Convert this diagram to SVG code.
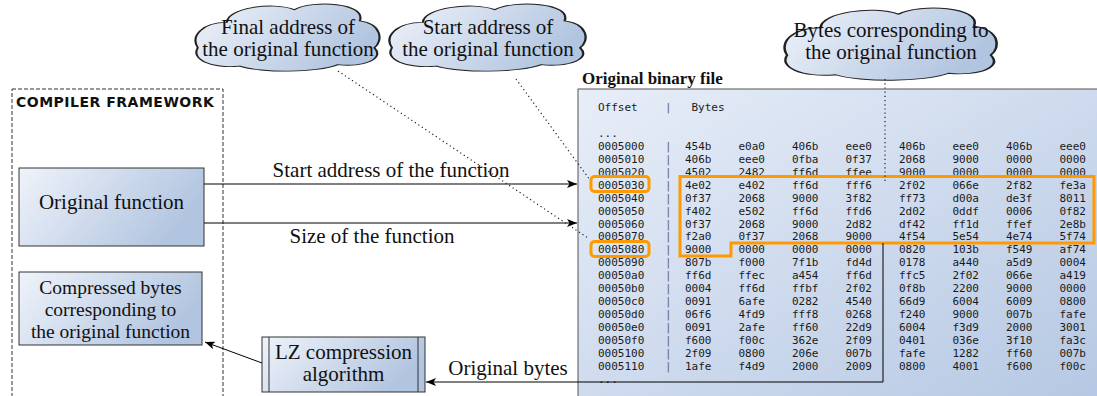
<svg xmlns="http://www.w3.org/2000/svg" width="1097" height="396" viewBox="0 0 1097 396">
<style>
  .serif { font-family: "Liberation Serif", "Times New Roman", serif; font-size: 21px; fill: #111; }
  .tight { font-size: 19.5px; }
  .mid { text-anchor: middle; }
  .title { font-family: "Liberation Serif", serif; font-size: 17px; font-weight: bold; fill: #111; }
  .frameTitle { font-family: "DejaVu Sans", sans-serif; font-size: 14px; font-weight: bold; letter-spacing: 0.5px; fill: #111; }
  .mono { font-family: "DejaVu Sans Mono", monospace; font-size: 11px; fill: #1a1a1a; }
  .sep { fill: #666; }
  .box { fill: url(#fillBlue); stroke: #333; stroke-width: 1; }
  .cloud { fill: url(#fillBlue); stroke: #222; stroke-width: 1.2; }
  .edge { fill: none; stroke: #000; stroke-width: 1; }
  .dotted { fill: none; stroke: #222; stroke-width: 1.2; stroke-dasharray: 1.2 3; }
  .mark { fill: none; stroke: #ff9900; stroke-width: 3; }
</style>
<defs>
  <linearGradient id="fillBlue" x1="0" y1="0" x2="1" y2="0.35">
    <stop offset="0" stop-color="#eff3fa"/>
    <stop offset="1" stop-color="#b2c5e0"/>
  </linearGradient>
  <linearGradient id="fillPanel" x1="0" y1="0" x2="1" y2="1">
    <stop offset="0" stop-color="#e8eef8"/>
    <stop offset="1" stop-color="#b3c6e2"/>
  </linearGradient>
  <marker id="arrow" viewBox="0 0 10 8" refX="10" refY="4" markerWidth="10" markerHeight="8" markerUnits="userSpaceOnUse" orient="auto">
    <path d="M0,0 L10,4 L0,8 L2.5,4 z" fill="#000"/>
  </marker>
  <!-- cloud outline in a 100x100 unit box -->
  <path id="cloudPath" d="M1,68 C-3,52 3,32 17,32 C17,12 42,2 54,14 C64,0 94,4 90,30 C102,34 103,58 98,68 C104,84 92,96 78,92 C66,104 36,104 24,94 C8,98 -3,84 1,68 Z"/>
</defs>

<!-- compiler framework container -->
<g id="compiler-framework">
  <rect x="12" y="89" width="211" height="330" fill="none" stroke="#333" stroke-width="1" stroke-dasharray="4 2"/>
  <text class="frameTitle" x="16" y="107">COMPILER FRAMEWORK</text>
</g>

<!-- binary file listing -->
<g id="binary-file">
  <text class="title" x="582" y="84">Original binary file</text>
  <rect x="578" y="89" width="530" height="330" fill="url(#fillPanel)" stroke="#555" stroke-width="1"/>
  <g class="mono">
    <text y="111"><tspan x="598">Offset</tspan><tspan x="665" class="sep">|</tspan><tspan x="691.5">Bytes</tspan></text>
    <text x="598" y="137">...</text>
    <text y="150"><tspan x="598">0005000</tspan><tspan x="665" class="sep">|</tspan><tspan x="685">454b</tspan><tspan x="738.5">e0a0</tspan><tspan x="792">406b</tspan><tspan x="845.5">eee0</tspan><tspan x="899">406b</tspan><tspan x="952.5">eee0</tspan><tspan x="1006">406b</tspan><tspan x="1059.5">eee0</tspan></text>
    <text y="162.9"><tspan x="598">0005010</tspan><tspan x="665" class="sep">|</tspan><tspan x="685">406b</tspan><tspan x="738.5">eee0</tspan><tspan x="792">0fba</tspan><tspan x="845.5">0f37</tspan><tspan x="899">2068</tspan><tspan x="952.5">9000</tspan><tspan x="1006">0000</tspan><tspan x="1059.5">0000</tspan></text>
    <text y="175.8"><tspan x="598">0005020</tspan><tspan x="665" class="sep">|</tspan><tspan x="685">4502</tspan><tspan x="738.5">2482</tspan><tspan x="792">ff6d</tspan><tspan x="845.5">ffee</tspan><tspan x="899">9000</tspan><tspan x="952.5">0000</tspan><tspan x="1006">0000</tspan><tspan x="1059.5">0000</tspan></text>
    <text y="188.8"><tspan x="598">0005030</tspan><tspan x="665" class="sep">|</tspan><tspan x="685">4e02</tspan><tspan x="738.5">e402</tspan><tspan x="792">ff6d</tspan><tspan x="845.5">fff6</tspan><tspan x="899">2f02</tspan><tspan x="952.5">066e</tspan><tspan x="1006">2f82</tspan><tspan x="1059.5">fe3a</tspan></text>
    <text y="201.7"><tspan x="598">0005040</tspan><tspan x="665" class="sep">|</tspan><tspan x="685">0f37</tspan><tspan x="738.5">2068</tspan><tspan x="792">9000</tspan><tspan x="845.5">3f82</tspan><tspan x="899">ff73</tspan><tspan x="952.5">d00a</tspan><tspan x="1006">de3f</tspan><tspan x="1059.5">8011</tspan></text>
    <text y="214.6"><tspan x="598">0005050</tspan><tspan x="665" class="sep">|</tspan><tspan x="685">f402</tspan><tspan x="738.5">e502</tspan><tspan x="792">ff6d</tspan><tspan x="845.5">ffd6</tspan><tspan x="899">2d02</tspan><tspan x="952.5">0ddf</tspan><tspan x="1006">0006</tspan><tspan x="1059.5">0f82</tspan></text>
    <text y="227.5"><tspan x="598">0005060</tspan><tspan x="665" class="sep">|</tspan><tspan x="685">0f37</tspan><tspan x="738.5">2068</tspan><tspan x="792">9000</tspan><tspan x="845.5">2d82</tspan><tspan x="899">df42</tspan><tspan x="952.5">ff1d</tspan><tspan x="1006">ffef</tspan><tspan x="1059.5">2e8b</tspan></text>
    <text y="240.4"><tspan x="598">0005070</tspan><tspan x="665" class="sep">|</tspan><tspan x="685">f2a0</tspan><tspan x="738.5">0f37</tspan><tspan x="792">2068</tspan><tspan x="845.5">9000</tspan><tspan x="899">4f54</tspan><tspan x="952.5">5e54</tspan><tspan x="1006">4e74</tspan><tspan x="1059.5">5f74</tspan></text>
    <text y="253.4"><tspan x="598">0005080</tspan><tspan x="665" class="sep">|</tspan><tspan x="685">9000</tspan><tspan x="738.5">0000</tspan><tspan x="792">0000</tspan><tspan x="845.5">0000</tspan><tspan x="899">0820</tspan><tspan x="952.5">103b</tspan><tspan x="1006">f549</tspan><tspan x="1059.5">af74</tspan></text>
    <text y="266.3"><tspan x="598">0005090</tspan><tspan x="665" class="sep">|</tspan><tspan x="685">807b</tspan><tspan x="738.5">f000</tspan><tspan x="792">7f1b</tspan><tspan x="845.5">fd4d</tspan><tspan x="899">0178</tspan><tspan x="952.5">a440</tspan><tspan x="1006">a5d9</tspan><tspan x="1059.5">0004</tspan></text>
    <text y="279.2"><tspan x="598">00050a0</tspan><tspan x="665" class="sep">|</tspan><tspan x="685">ff6d</tspan><tspan x="738.5">ffec</tspan><tspan x="792">a454</tspan><tspan x="845.5">ff6d</tspan><tspan x="899">ffc5</tspan><tspan x="952.5">2f02</tspan><tspan x="1006">066e</tspan><tspan x="1059.5">a419</tspan></text>
    <text y="292.1"><tspan x="598">00050b0</tspan><tspan x="665" class="sep">|</tspan><tspan x="685">0004</tspan><tspan x="738.5">ff6d</tspan><tspan x="792">ffbf</tspan><tspan x="845.5">2f02</tspan><tspan x="899">0f8b</tspan><tspan x="952.5">2200</tspan><tspan x="1006">9000</tspan><tspan x="1059.5">0000</tspan></text>
    <text y="305"><tspan x="598">00050c0</tspan><tspan x="665" class="sep">|</tspan><tspan x="685">0091</tspan><tspan x="738.5">6afe</tspan><tspan x="792">0282</tspan><tspan x="845.5">4540</tspan><tspan x="899">66d9</tspan><tspan x="952.5">6004</tspan><tspan x="1006">6009</tspan><tspan x="1059.5">0800</tspan></text>
    <text y="318"><tspan x="598">00050d0</tspan><tspan x="665" class="sep">|</tspan><tspan x="685">06f6</tspan><tspan x="738.5">4fd9</tspan><tspan x="792">fff8</tspan><tspan x="845.5">0268</tspan><tspan x="899">f240</tspan><tspan x="952.5">9000</tspan><tspan x="1006">007b</tspan><tspan x="1059.5">fafe</tspan></text>
    <text y="330.9"><tspan x="598">00050e0</tspan><tspan x="665" class="sep">|</tspan><tspan x="685">0091</tspan><tspan x="738.5">2afe</tspan><tspan x="792">ff60</tspan><tspan x="845.5">22d9</tspan><tspan x="899">6004</tspan><tspan x="952.5">f3d9</tspan><tspan x="1006">2000</tspan><tspan x="1059.5">3001</tspan></text>
    <text y="343.8"><tspan x="598">00050f0</tspan><tspan x="665" class="sep">|</tspan><tspan x="685">f600</tspan><tspan x="738.5">f00c</tspan><tspan x="792">362e</tspan><tspan x="845.5">2f09</tspan><tspan x="899">0401</tspan><tspan x="952.5">036e</tspan><tspan x="1006">3f10</tspan><tspan x="1059.5">fa3c</tspan></text>
    <text y="356.7"><tspan x="598">0005100</tspan><tspan x="665" class="sep">|</tspan><tspan x="685">2f09</tspan><tspan x="738.5">0800</tspan><tspan x="792">206e</tspan><tspan x="845.5">007b</tspan><tspan x="899">fafe</tspan><tspan x="952.5">1282</tspan><tspan x="1006">ff60</tspan><tspan x="1059.5">007b</tspan></text>
    <text y="369.6"><tspan x="598">0005110</tspan><tspan x="665" class="sep">|</tspan><tspan x="685">1afe</tspan><tspan x="738.5">f4d9</tspan><tspan x="792">2000</tspan><tspan x="845.5">2009</tspan><tspan x="899">0800</tspan><tspan x="952.5">4001</tspan><tspan x="1006">f600</tspan><tspan x="1059.5">f00c</tspan></text>
    <text x="598" y="382.5">...</text>
  </g>
  <!-- highlighted offsets and byte range -->
  <rect class="mark" x="591" y="176.5" width="58" height="15" rx="3.5"/>
  <rect class="mark" x="591" y="241.5" width="58" height="15" rx="3.5"/>
  <path class="mark" d="M680,176.5 H1094 V243 H731 V256 H680 Z"/>
</g>

<!-- process boxes -->
<g id="original-function">
  <rect class="box" x="19" y="168" width="185" height="78"/>
  <text class="serif mid" x="111.5" y="209">Original function</text>
</g>
<g id="compressed-bytes">
  <rect class="box" x="19" y="272" width="183" height="73"/>
  <text class="serif tight mid" x="110.5" y="294">Compressed bytes</text>
  <text class="serif tight mid" x="110.5" y="316">corresponding to</text>
  <text class="serif tight mid" x="110.5" y="338">the original function</text>
</g>
<g id="lz-compression">
  <rect class="box" x="262" y="337" width="163" height="55"/>
  <line x1="269" y1="337" x2="269" y2="392" stroke="#333" stroke-width="1"/>
  <line x1="418" y1="337" x2="418" y2="392" stroke="#333" stroke-width="1"/>
  <text class="serif mid" x="343.5" y="359">LZ compression</text>
  <text class="serif mid" x="343.5" y="381">algorithm</text>
</g>

<!-- annotation clouds -->
<g id="cloud-final-address">
  <use href="#cloudPath" class="cloud" transform="translate(196,-0.2) scale(1.82,0.705)" vector-effect="non-scaling-stroke"/>
  <text class="serif mid" x="288" y="34">Final address of</text>
  <text class="serif mid" x="288" y="56">the original function</text>
</g>
<g id="cloud-start-address">
  <use href="#cloudPath" class="cloud" transform="translate(390,-0.2) scale(1.94,0.705)" vector-effect="non-scaling-stroke"/>
  <text class="serif mid" x="488" y="34">Start address of</text>
  <text class="serif mid" x="488" y="56">the original function</text>
</g>
<g id="cloud-bytes">
  <use href="#cloudPath" class="cloud" transform="translate(785,3.5) scale(2.1,0.758)" vector-effect="non-scaling-stroke"/>
  <text class="serif mid" x="891" y="37">Bytes corresponding to</text>
  <text class="serif mid" x="891" y="59">the original function</text>
</g>

<!-- connectors -->
<g id="connectors">
  <line class="edge" x1="204" y1="184" x2="577" y2="184" marker-end="url(#arrow)"/>
  <text class="serif mid" x="391" y="177">Start address of the function</text>
  <line class="edge" x1="204" y1="223" x2="577" y2="223" marker-end="url(#arrow)"/>
  <text class="serif mid" x="372" y="243">Size of the function</text>
  <line class="edge" x1="262" y1="363" x2="205" y2="342" marker-end="url(#arrow)"/>
  <polyline class="edge" points="883,243 883,382 426,382" marker-end="url(#arrow)"/>
  <text class="serif mid" x="508" y="375">Original bytes</text>
  <line class="dotted" x1="338" y1="71" x2="588" y2="238"/>
  <line class="dotted" x1="516" y1="79" x2="590" y2="180"/>
  <line class="dotted" x1="885" y1="79" x2="885" y2="182"/>
</g>
</svg>
